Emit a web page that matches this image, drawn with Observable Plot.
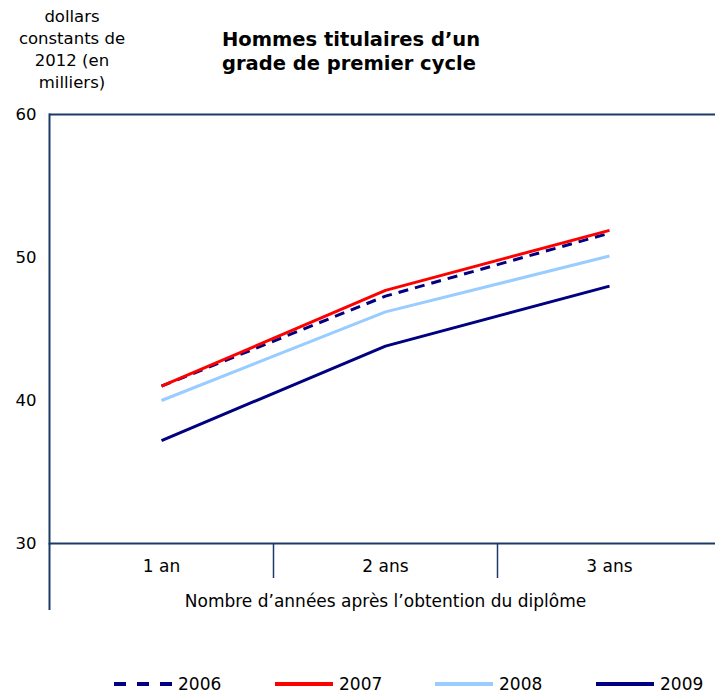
<!DOCTYPE html>
<html><head><meta charset="utf-8">
<script src="https://cdn.jsdelivr.net/npm/d3@7"></script>
<script src="https://cdn.jsdelivr.net/npm/@observablehq/plot@0.6"></script>
<style>
body{margin:0;background:#fff;font-family:"DejaVu Sans",Verdana,sans-serif;color:#000;}
#wrap{position:relative;width:715px;height:695px;overflow:hidden;}
#ytitle{position:absolute;left:0;top:6px;width:144px;text-align:center;font-size:16.5px;line-height:22px;}
#title{position:absolute;left:222px;top:28px;white-space:nowrap;font-weight:bold;font-size:19.5px;line-height:24px;}
#chart{position:absolute;left:0;top:95px;}
.item{position:absolute;top:674px;height:20px;display:flex;align-items:center;font-size:17px;}
.item svg{margin-right:6px;}
</style></head>
<body>
<div id="wrap">
  <div id="ytitle">dollars<br>constants de<br>2012 (en<br>milliers)</div>
  <div id="title">Hommes titulaires d’un<br>grade de premier cycle</div>
  <div id="chart"></div>
  <div id="legend"></div>
</div>
<script>
const categories = ["1 an", "2 ans", "3 ans"];
const years = ["2006", "2007", "2008", "2009"];
const v2006 = [41.0, 47.3, 51.7];
const v2007 = [41.0, 47.7, 51.9];
const v2008 = [40.0, 46.2, 50.1];
const v2009 = [37.2, 43.8, 48.0];
const yTicks = [30, 40, 50, 60];
const xLabel = "Nombre d’années après l’obtention du diplôme";

const colors = {"2006": "#000080", "2007": "#ff0000", "2008": "#99ccff", "2009": "#000080"};
const dashes = {"2006": "10,7", "2007": null, "2008": null, "2009": null};
const seriesVals = {"2006": v2006, "2007": v2007, "2008": v2008, "2009": v2009};
const axisColor = "#1b3a66";

const rows = categories.map((c, i) => ({cat: c, pos: i + 0.5}));
const series = y => categories.map((c, i) => ({pos: i + 0.5, value: seriesVals[y][i], year: y}));

const drawOrder = ["2009", "2008", "2006", "2007"];

const chart = Plot.plot({
  width: 715,
  height: 525,
  marginTop: 19,
  marginBottom: 77,
  marginLeft: 49,
  marginRight: 0,
  style: {fontFamily: "DejaVu Sans, Verdana, sans-serif", fontSize: "16px", color: "#000", background: "transparent"},
  x: {domain: [0, categories.length], range: [49, 721], axis: null},
  y: {domain: [30, 60], axis: null},
  marks: [
    Plot.axisY({ticks: yTicks, tickSize: 0, tickPadding: 13, fontSize: 16.5, label: null}),
    ...drawOrder.map(y => Plot.line(series(y), {
      x: "pos", y: "value", stroke: colors[y], strokeWidth: 3,
      strokeDasharray: dashes[y] ?? undefined, strokeLinecap: "butt"
    })),
    Plot.ruleY([30, 60], {stroke: axisColor, strokeWidth: 2}),
    Plot.frame({anchor: "left", stroke: axisColor, strokeWidth: 2}),
    Plot.axisX({ticks: [1, 2], tickSize: 35, fill: "none", stroke: axisColor, strokeWidth: 1.5, label: null}),
    Plot.axisX({ticks: [0], tickSize: 67, fill: "none", stroke: axisColor, strokeWidth: 2, label: null}),
    Plot.text(rows, {x: "pos", text: "cat", frameAnchor: "bottom", dy: 28, fontSize: 17}),
    Plot.text([xLabel], {frameAnchor: "bottom", dx: 3, dy: 63, fontSize: 17})
  ]
});
document.getElementById("chart").appendChild(chart);

const legendX = [114, 275, 435, 596];
const legend = d3.select("#legend");
years.forEach((y, i) => {
  const item = legend.append("div").attr("class", "item").style("left", legendX[i] + "px");
  const s = item.append("svg").attr("width", 58).attr("height", 8);
  s.append("line").attr("x1", 0).attr("x2", 58).attr("y1", 4).attr("y2", 4)
    .attr("stroke", colors[y]).attr("stroke-width", 4)
    .attr("stroke-dasharray", dashes[y] ? "12,11" : null);
  item.append("span").text(y);
});
</script>
</body></html>
